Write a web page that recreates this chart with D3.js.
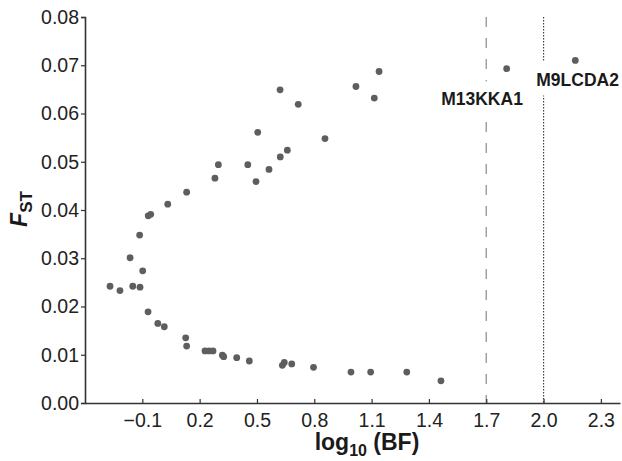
<!DOCTYPE html>
<html><head><meta charset="utf-8">
<script src="https://cdn.jsdelivr.net/npm/d3@7"></script>
<style>
html,body{margin:0;padding:0;background:#fff;}
svg{display:block;}
text{font-family:"Liberation Sans",Arial,Helvetica,sans-serif;}
</style></head>
<body>
<svg id="chart" width="622" height="461"></svg>
<script>
// Data
const logBF = [0.621,0.716,0.504,0.856,0.659,0.622,0.298,0.452,0.563,0.280,0.495,0.132,0.033,-0.069,-0.056,-0.114,-0.164,-0.098,-0.269,-0.217,-0.150,-0.112,-0.070,-0.019,0.015,0.127,0.132,0.228,0.249,0.270,0.319,0.326,0.394,0.460,0.633,0.643,0.682,0.796,0.992,1.095,1.284,1.463,1.139,1.018,1.114,1.807,2.166];
const fst   = [0.0649,0.0619,0.0561,0.0548,0.0524,0.0510,0.0494,0.0494,0.0484,0.0466,0.0459,0.0437,0.0412,0.0388,0.0391,0.0348,0.0301,0.0274,0.0242,0.0233,0.0242,0.0240,0.0189,0.0165,0.0158,0.0135,0.0118,0.0108,0.0108,0.0108,0.0099,0.0096,0.0094,0.0087,0.0078,0.0084,0.0081,0.0074,0.0064,0.0064,0.0064,0.0046,0.0687,0.0656,0.0632,0.0693,0.0710];
const xTicks = [-0.1,0.2,0.5,0.8,1.1,1.4,1.7,2.0,2.3];
const yTicks = [0,0.01,0.02,0.03,0.04,0.05,0.06,0.07,0.08];
const thresholds = [1.7, 2.0];
const labelNames = ["M13KKA1","M9LCDA2"];
const labelX = [1.678, 2.178];
const labelY = [0.0617, 0.0658];

const svg = d3.select("#chart");
const x = d3.scaleLinear().domain([-0.4, 2.4]).range([85, 620]);
const y = d3.scaleLinear().domain([0, 0.08]).range([403, 17]);

// threshold lines
svg.append("line").attr("x1", x(thresholds[0])).attr("x2", x(thresholds[0]))
  .attr("y1", y(0.08)).attr("y2", y(0))
  .attr("stroke", "#9a9a9a").attr("stroke-width", 1.4).attr("stroke-dasharray", "10,11");
svg.append("line").attr("x1", x(thresholds[1])).attr("x2", x(thresholds[1]))
  .attr("y1", y(0.08)).attr("y2", y(0))
  .attr("stroke", "#444").attr("stroke-width", 1.2).attr("stroke-dasharray", "1.5,1.5");

// labels with white background
labelNames.forEach((t, i) => {
  const g = svg.append("g");
  const txt = g.append("text").attr("x", x(labelX[i])).attr("y", y(labelY[i]))
    .attr("text-anchor", "middle").attr("font-weight", "bold").attr("font-size", 17.5)
    .attr("fill", "#1a1a1a").text(t);
  const bb = txt.node().getBBox();
  g.insert("rect", "text").attr("x", bb.x - 2).attr("y", bb.y - 8)
    .attr("width", bb.width + 4).attr("height", bb.height + 14).attr("fill", "#fff");
});

// points
svg.append("g").selectAll("circle").data(logBF).join("circle")
  .attr("cx", (d, i) => x(d)).attr("cy", (d, i) => y(fst[i]))
  .attr("r", 3.4).attr("fill", "#5e5e5e");

// axes
const xAxis = d3.axisBottom(x).tickValues(xTicks).tickSize(0).tickPadding(0)
  .tickFormat(d3.format(".1f"));
const gx = svg.append("g").attr("transform", "translate(0,403)").call(xAxis);
gx.select(".domain").attr("stroke", "#333").attr("stroke-width", 1.6);
gx.selectAll(".tick line").remove();
gx.selectAll(".tick").append("line").attr("y1", 0).attr("y2", -4).attr("stroke", "#333").attr("stroke-width", 1.2);
gx.selectAll(".tick text").attr("y", 24).attr("dy", 0).attr("font-size", 19.5).attr("fill", "#222")
  .attr("font-family", "Liberation Sans, Arial, sans-serif");

const yAxis = d3.axisLeft(y).tickValues(yTicks).tickSize(4).tickPadding(2)
  .tickFormat(d3.format(".2f"));
const gy = svg.append("g").attr("transform", "translate(85,0)").call(yAxis);
gy.select(".domain").attr("stroke", "#333").attr("stroke-width", 1.6);
gy.selectAll(".tick line").attr("stroke", "#333").attr("stroke-width", 1.2);
gy.selectAll(".tick text").attr("font-size", 19.5).attr("fill", "#222")
  .attr("font-family", "Liberation Sans, Arial, sans-serif");

// axis titles
const xt = svg.append("text").attr("x", 367).attr("y", 450).attr("text-anchor", "middle")
  .attr("font-weight", "bold").attr("font-size", 23).attr("fill", "#1a1a1a");
xt.append("tspan").text("log");
xt.append("tspan").attr("font-size", 16).attr("dy", 6).text("10");
xt.append("tspan").attr("dy", -6).text(" (BF)");

const yt = svg.append("text").attr("transform", "translate(27,209) rotate(-90)")
  .attr("text-anchor", "middle").attr("font-weight", "bold").attr("font-size", 23).attr("fill", "#1a1a1a");
yt.append("tspan").attr("font-style", "italic").text("F");
yt.append("tspan").attr("font-size", 17).attr("dy", 5).text("ST");
</script>
</body></html>
